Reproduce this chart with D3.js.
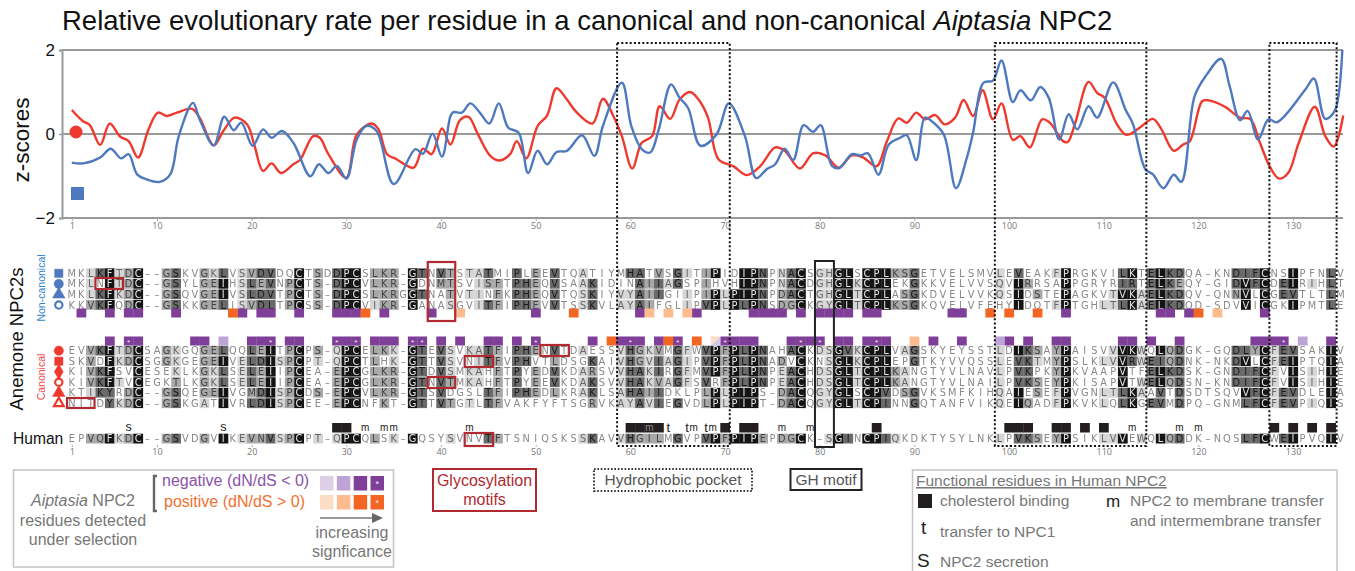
<!DOCTYPE html>
<html>
<head>
<meta charset="utf-8">
<script src="https://cdn.jsdelivr.net/npm/d3@7"></script>
<style>
body { margin: 0; background: #fff; }
svg { display: block; font-family: "Liberation Sans", Arial, sans-serif; }
.seq text, .seq { font-family: "DejaVu Sans", sans-serif; }
.soft { filter: blur(0.45px); }
.softer { filter: blur(0.3px); }
</style>
</head>
<body>
<script>
const redResidue = [1,2.15,2.9,4,5,6.1,7,8,9.1,10.1,11,12.1,13.7,14.5,16,17,18.2,19.5,20.3,21.2,22.1,23.1,24.4,25.1,26.5,27.2,28.1,30,31.1,32.7,33.4,34.3,35.3,37.1,38.1,39,40.1,41,42,42.9,43.9,45.2,46.2,47.3,48,49,50.2,51.2,52.2,53.3,54.3,56,57.1,58.2,59.1,60.2,61.2,62.3,63.1,64.2,65.2,66.3,67.2,68.2,69.3,70.9,72.3,73.7,75.3,76.3,77.9,79.3,80.6,82,83.4,84.6,86,87.1,88.3,89.2,90.2,91.1,92.2,93.2,94.3,95.2,96.2,97.2,98.3,99.2,100.4,101.2,102.2,103.5,104.3,105.7,106.2,107,108.4,109.3,110.1,111.4,112.4,113.8,115.2,116.1,117.4,118.4,119.1,120.4,121.1,122.8,124.4,125.5,126.5,127.6,128.5,129.5,130.6,132.3,133.4,134.3,135.3];
const redZ = [.57,.31,.21,-.26,.25,-.06,-.17,-.56,.11,.51,.43,.51,.6,.39,-.27,.07,.39,.23,-.28,-.88,-.7,-.93,-.72,-.62,-.05,-.09,-.48,-1.04,-.01,.25,.11,-.48,-.6,-.8,-.35,-.48,.13,-.25,.33,.41,-.01,-.52,-.63,-.48,-.17,-.58,.19,.44,1.09,.82,.52,.25,.84,.43,-.05,-.82,-.21,-.05,.66,.36,.82,1,.82,.39,-.6,-.77,-.98,-.77,-.32,-.4,-.82,-.46,-.51,-.8,-.51,-.56,-.77,-.17,.37,.27,.51,.35,.45,.23,.39,.81,.43,1.04,.35,.73,-.14,-.05,-.32,.35,.27,-.17,-.19,.27,1.24,.98,.86,.23,-.02,.15,.36,.11,-.4,-.25,-.17,.78,.8,.65,.39,.35,-.21,-.8,-1.06,-.92,-.21,.65,-.05,-.3,.44];
const blueResidue = [1,2.2,4,5.1,6.2,7,7.9,8.9,10.3,11.4,12.3,13.8,14.5,16,17.1,18.1,18.9,20.1,21.2,22.1,23.2,24.4,26.2,27.1,28.1,29,30,31.1,32.1,33.2,35,37.3,38.1,39.1,40.1,41,41.3,42.2,43.1,44.1,45.1,46.1,47.1,48.2,49.2,50.2,51.2,52.2,53.3,54.9,56.2,57.1,59.1,60.1,61.2,62.1,63,64.3,65.2,66.1,67.4,69.1,70.4,72.1,73.3,74.4,75.3,76.3,77.2,78.3,79.3,80.1,81.3,82.1,83.4,84.3,85.1,86.2,87.3,88.5,89.2,90.2,91.1,91.8,93.1,94.4,95.5,96.2,97.3,98.3,99.2,100.4,101.2,102.3,103.3,104.2,105.3,106.3,107.2,108.4,109.3,111,112.3,113.1,114.4,115.2,116.3,117.4,118.2,119.6,120.9,122.4,123.3,124.4,125.2,126.3,127.4,128.3,131.3,132.2,133.4,134.4,135.2];
const blueZ = [-.68,-.7,-.56,-.35,-.58,-.48,-.96,-1.08,-1.14,-.96,-.05,.74,.35,-.27,.41,.09,.27,-.28,.11,-.09,.07,-.21,-1.01,-.72,-.93,-.76,-1.06,-.13,.19,.07,-1.19,-.36,-.47,.01,-.54,.43,.52,.51,.73,.51,.25,.73,.15,.03,-.93,-.4,-.72,-.43,-.4,-.03,-.52,.19,1.22,.19,-.36,-.44,.11,1.18,.86,.62,-.28,-.01,.73,-.05,-1.05,-.84,-.72,-.35,-.62,.21,.05,.21,-.76,-.81,-.48,-.51,-.46,-.97,-.25,-.09,-.03,-.62,.39,.31,-.01,-1.29,-.6,.03,1.22,1.27,1.75,.76,1.04,.8,1.12,.86,-.13,.47,.11,.66,.39,1.23,.58,.23,-.84,-.96,-1.29,-.97,-1.14,.9,1.42,1.79,1.14,.33,.55,-.13,.35,.28,1.06,1.32,.36,.55,2];

const zTicks = [2, 0, -2];
const residueTicks = [1,10,20,30,40,50,60,70,80,90,100,110,120,130];

// alignment
const nonCanonicalSeqs = [
  "MKLKFTDC--GSKVGKLVSVDVDQCTSDDPCSLKR-GTNVTSTATMIPLEEVTQATIYMHATVSGITIPIDIPNPNACSGHGLSCPLKSGETVELSMVLEVEAKFPRGKVILKTELKDQA-KNDIFCNSIPFNLV",
  "MKLNFTDC--GSYLGEIHSLEVNPCTS-DPCVLKR-GDNMTSVISFTPHEQVSAAKIDINAIIAGSPIHVHIPNPNACDGHGLKCPLEKGKKVELVVSQVIRRSAPPGRYRIRTELKEQY-GIDVFCDEIRIHLT",
  "MKLKFKDC--GSQVGEIVSLDVTPCTS-DPCSLKRGGTNATVTINFKPHEQVTQSKIYVYAIIGIIPIPLPIPNPDACTGHGLTCPLASGKDVELVVKQSIDSTEPAGKVTVKAELKDQV-QNNVLCGEVTLTLM",
  "KKVKFQDC--GSKKGELISVDLTPCSS-DPCVIKR-GANASGVITFIPHEVVTSSKVLAYAIFGLIPVPLPLPNSDGCKGYGLTCPLKSGKQVELVFEHYIDQTFPTGHLTLKAELKDQD-SDVVICGKIPMTLE"
];
const canonicalSeqs = [
  "EVVKFTDCSAGKGQGELQQLEITPCPS-QPCELKK-GTEVSVKATFIPHENVTDAESSVHGKVMGFWVPFPLPNAHACKDSGVKCPLVAGSKYEYSSTLDIKSAYPAISVVVKWQLQDGK-GQDLYCFEVSAKIV",
  "SKVDFKDCSGGKGEGEIVELDISPCPT-QPCTLHK-GTTVSVNITFVPHVTLDSGKAIVHGVIAGIPVPFPLPNADVCKNSGLKCPLEPGTKYVVQSSLEVKTMYPSLKLVVRWEIQDNK-NKDVLCFEIPTQIA",
  "KIVKFSVCESEKLKGKLSELEIIPCEA-EPCGLKR-GTDVSMKAHFTPYEDVKDARSVVHAKIRGFMVPFPLPNPEACHDSGLTCPLKANGTYVLNAVLPVKPKYPKVAAPVTFELKDSK-GNDIFCFVISIHIE",
  "KIVKFTVCEGKTLKGKLSELEIIPCEA-EPCGLKR-GTNVTMKAHFTPYEEVKDAKSVVHAKVAGFSVRFPLPNPEACHDSGLTCPLKANGTYVLNAILPVKSEYPKISAPVTWELQDSN-KNDIFCFVISIHIE",
  "KTIKYRDC--GSQEGEIVGMDISPCDS-EPCVLKR-GTSVDGSLTFIPHEDLKRAKLSAHAIIDKLPLPLPIPS-DACQGYGLSCPVDSGVKSMFKIHQAIESEFPVGNLTLKAAVTDSDTSQVVFCFEVDLEIA",
  "NITDYKDC--GSKGATIVRLDISPCEE-EPCNFKT-GTTVTGTLTFVAKFYFTSGRVKAYAVIEGVDLPLPIPT-DACQGYGLTCPINNGQTANFVIKQEIQADFPKVKLQLKGEVMDPQ-GNMLFCFEVPIQIS"
];
const humanSeq = "EPVQFKDC--GSVDGVIKEVNVSPCPT-QPCQLSK-GQSYSVNVTFTSNIQSKSSKAVVHGILMGVPVPFPIPEPDGCK-SGINCPIQKDKTYSYLNKLPVKSEYPSIKLVVEWQLQDDK-NQSLFCWEIPVQIV";

// darkest shade seen in each alignment column, 0 none .. 4 black
const columnShade = [
  0,0,2,3,4,1,2,4,0,0,
  2,3,0,0,2,2,4,0,1,3,
  3,4,1,2,4,0,2,0,3,4,
  4,0,2,2,2,0,4,3,0,3,
  2,0,1,1,3,2,0,3,3,2,
  0,3,0,0,1,3,0,0,1,3,
  3,2,3,1,3,1,0,3,4,2,
  4,4,4,3,0,2,3,4,0,1,
  1,4,4,1,4,4,4,2,2,3,
  0,0,0,0,0,0,0,0,1,0,
  4,3,2,0,2,4,0,0,0,1,
  1,4,4,1,3,4,3,3,0,0,
  0,0,0,3,4,3,4,1,3,4,
  0,1,0,4,0
];
const similarGroups = ["ILVM","KRQ","DEN","ST","FYW","AG"];

// residues detected under selection
const ncNegative = [2,5,7,8,12,19,21,22,25,29,30,31,34,39,50,61,67,73,74,75,76,78,80,81,82,83,85,86,94,95,106,116,117,119,127];
const ncPositive = [18,32,54,98,100,103,120];
const ncPositiveWeak = [42,62,64,66,122];
const cNegative = [5,7,8,14,15,20,21,22,24,25,29,30,31,33,34,35,37,38,40,42,45,46,48,50,56,59,60,61,63,65,70,71,72,73,77,78,79,80,82,83,85,86,87,92,95,100,102,105,106,112,113,115,118,126,127,128,129,134];
const cNegativeWeak = [17,99,131];
const cPositive = [58,64,67];
const cPositiveWeak = [90];
const cMixed = [69];
const cStars = [7,22,29,31,37,38,50,60,65,70,78,80,86,129];

// functional residues, human
const cholesterol = [29,30,60,61,62,63,70,72,73,86,100,101,102,105,106,108,110,128,130,132,134];
const mResidues = [32,34,35,43,62,66.7,68.7,76,79,113,118,120];
const tResidues = [64,66,68];
const sResidues = [7,17];

// regions, first / last residue of the box
const pockets = [[58.6,70.5],[98.5,114.5],[127.5,134.6]];
const ghMotif = [79.5,81.5];

const width = 1355, height = 571;
const svg = d3.select("body").append("svg").attr("width", width).attr("height", height);

let x = d3.scaleLinear().domain([1,135]).range([71.8,1340.4]);
let y = d3.scaleLinear().domain([-2,2]).range([218,50]);
const step = x(2) - x(1);

// title
let title = svg.append("text").attr("x",62).attr("y",30).attr("font-size",27.5).attr("fill","#111");
title.append("tspan").text("Relative evolutionary rate per residue in a canonical and non-canonical ");
title.append("tspan").attr("font-style","italic").text("Aiptasia");
title.append("tspan").text(" NPC2");

// axes
let yAxis = svg.append("g").attr("transform","translate(62,0)")
  .call(d3.axisLeft(y).tickValues(zTicks).tickSize(3).tickFormat(d3.format("d")));
yAxis.select(".domain").attr("stroke","#999").attr("stroke-width",2);
yAxis.selectAll(".tick line").attr("stroke","#999").attr("stroke-width",1.5);
yAxis.selectAll(".tick text").attr("font-size",17).attr("font-family","Liberation Sans").attr("fill","#111").attr("x",-7);

svg.append("g").attr("class","softer").selectAll("line").data(zTicks).enter().append("line")
  .attr("x1",62).attr("x2",1343)
  .attr("y1",d => y(d)).attr("y2",d => y(d))
  .attr("stroke","#999").attr("stroke-width",2);

function residueAxis(yPos, tickLen) {
  let g = svg.append("g").attr("transform","translate(0," + yPos + ")")
    .call(d3.axisBottom(x).tickValues(residueTicks).tickSize(tickLen).tickPadding(2).tickFormat(d3.format("d")));
  g.select(".domain").remove();
  g.selectAll(".tick line").attr("stroke","#aaa");
  g.selectAll(".tick text").attr("font-size",9).attr("font-family","Open Sans").attr("fill","#777");
}
residueAxis(218, 3);
residueAxis(445, 2);

svg.append("text").attr("transform","translate(29,140) rotate(-90)")
  .attr("text-anchor","middle").attr("font-size",22.5).attr("fill","#111").text("z-scores");

// the two curves
let line = d3.line().x(d => x(d[0])).y(d => y(d[1])).curve(d3.curveCatmullRom.alpha(0.5));
let curves = svg.append("g").attr("class","softer");
curves.append("path").datum(d3.zip(redResidue,redZ)).attr("d",line)
  .attr("fill","none").attr("stroke","#ee3a2e").attr("stroke-width",2.4);
curves.append("path").datum(d3.zip(blueResidue,blueZ)).attr("d",line)
  .attr("fill","none").attr("stroke","#4f79bf").attr("stroke-width",2.4);

svg.append("circle").attr("cx",76).attr("cy",132).attr("r",6.5).attr("fill","#ee3a2e");
svg.append("rect").attr("x",71).attr("y",187).attr("width",13).attr("height",13).attr("fill","#4f79bf");

// alignment rows
const ncRows = d3.scalePoint().domain(d3.range(4)).range([273.3,305]);
const cRows = d3.scalePoint().domain(d3.range(6)).range([350.7,403.3]);
const allSeqs = nonCanonicalSeqs.concat(canonicalSeqs, [humanSeq]);

const shade = d3.scaleOrdinal().domain([0,1,2,3,4]).range(["#fff","#d6d6d6","#a8a8a8","#6a6a6a","#141414"]);
const ink = d3.scaleOrdinal().domain([0,1,2,3,4]).range(["#888","#666","#444","#1a1a1a","#e4e4e4"]);

// most frequent letter of each column
const consensus = d3.range(135).map(col => {
  let counts = d3.rollups(allSeqs, v => v.length, s => s[col]).filter(d => d[0] !== "-");
  return d3.greatest(counts, d => d[1])[0];
});
function cellLevel(col, ch) {
  if (ch === "-") return 0;
  let top = columnShade[col];
  if (ch === consensus[col]) return top;
  let similar = similarGroups.some(g => g.includes(ch) && g.includes(consensus[col]));
  if (similar) return Math.max(top - 1, 0);
  let count = d3.sum(allSeqs, s => s[col] === ch ? 1 : 0);
  return count >= 3 ? Math.min(top, 1) : 0;
}

function drawRow(seq, yPos) {
  let g = svg.append("g").attr("class","seq");
  let cells = Array.from(seq).map((ch,i) => ({ch:ch, res:i+1, lv:cellLevel(i,ch)}));
  g.append("g").attr("class","soft").selectAll("rect").data(cells.filter(d => d.lv > 0)).enter().append("rect")
    .attr("x",d => x(d.res)-step/2).attr("y",yPos-5).attr("width",step+0.3).attr("height",9.8)
    .attr("fill",d => shade(d.lv));
  g.append("g").attr("class","softer").selectAll("text").data(cells).enter().append("text")
    .attr("x",d => x(d.res)).attr("y",yPos+3.6).attr("text-anchor","middle")
    .attr("font-size",9.8).attr("fill",d => ink(d.lv)).text(d => d.ch === "-" ? "–" : d.ch);
}
nonCanonicalSeqs.forEach((s,i) => drawRow(s, ncRows(i)));
canonicalSeqs.forEach((s,i) => drawRow(s, cRows(i)));
drawRow(humanSeq, 438.7);

// row symbols
const blue = "#4f79bf", red = "#ee3a2e";
function rowSymbol(type, yPos, col, open) {
  svg.append("path").attr("transform","translate(58.8," + yPos + ")")
    .attr("d",d3.symbol().type(type).size(open ? 42 : 68)())
    .attr("fill",open ? "#fff" : col).attr("stroke",col).attr("stroke-width",open ? 2.2 : 0.5);
}
[d3.symbolSquare,d3.symbolCircle,d3.symbolTriangle,d3.symbolCircle].forEach((t,i) => rowSymbol(t,ncRows(i),blue,i === 3));
[d3.symbolCircle,d3.symbolSquare,d3.symbolDiamond,d3.symbolCircle,d3.symbolTriangle,d3.symbolTriangle]
  .forEach((t,i) => rowSymbol(t,cRows(i),red,i === 3 || i === 5));

svg.append("text").attr("transform","translate(45,288) rotate(-90)").attr("text-anchor","middle")
  .attr("font-size",10.5).attr("fill","#2f86c8").text("Non-canonical");
svg.append("text").attr("transform","translate(45,377) rotate(-90)").attr("text-anchor","middle")
  .attr("font-size",10.5).attr("fill","#ee4a50").text("Canonical");
svg.append("text").attr("transform","translate(23,339) rotate(-90)").attr("text-anchor","middle")
  .attr("font-size",18.5).attr("fill","#111").text("Anemone NPC2s");
svg.append("text").attr("x",13).attr("y",444).attr("font-size",15.6).attr("fill","#111").text("Human");

// selection strips
function strip(data, yPos, col) {
  svg.append("g").selectAll("rect").data(data).enter().append("rect")
    .attr("x",d => x(d)-step/2).attr("y",yPos).attr("width",step+0.3).attr("height",9)
    .attr("fill",col);
}
const purple = "#7f3f98", orange = "#f26522", lightPurple = "#bda3d6", lightOrange = "#fdbb90";
strip(ncNegative,308.5,purple);
strip(ncPositive,308.5,orange);
strip(ncPositiveWeak,308.5,lightOrange);
strip(cNegative,336.5,purple);
strip(cPositive,336.5,orange);
strip(cNegativeWeak,336.5,lightPurple);
strip(cPositiveWeak,336.5,lightOrange);
svg.append("g").selectAll("path").data(cMixed).enter().append("path")
  .attr("d",d => "M" + (x(d)-step/2) + ",336.5h" + step + "l" + (-step) + ",9z").attr("fill","#fcdcc5");
svg.append("g").selectAll("path").data(cMixed).enter().append("path")
  .attr("d",d => "M" + (x(d)+step/2) + ",336.5v9h" + (-step) + "z").attr("fill","#d6c8e6");
svg.append("g").selectAll("text").data(cStars).enter().append("text")
  .attr("x",d => x(d)).attr("y",344.5).attr("text-anchor","middle").attr("font-size",8).attr("fill","#eee").text("*");

// human functional marks
svg.append("g").selectAll("rect").data(cholesterol).enter().append("rect")
  .attr("x",d => x(d)-step/2).attr("y",423).attr("width",step+0.3).attr("height",9.5).attr("fill","#231f20");
function marks(data, letter, yPos, size) {
  svg.append("g").selectAll("text").data(data).enter().append("text")
    .attr("x",d => x(d)).attr("y",yPos).attr("text-anchor","middle").attr("font-size",size)
    .attr("fill",d => cholesterol.includes(d) ? "#888" : "#222").text(letter);
}
marks(mResidues,"m",431,10);
marks(tResidues,"t",431.5,13);
marks(sResidues,"s",431,12.5);

// dotted boxes and motif boxes
svg.append("g").selectAll("rect").data(pockets).enter().append("rect")
  .attr("x",d => x(d[0])).attr("y",43).attr("width",d => x(d[1])-x(d[0])).attr("height",403)
  .attr("fill","none").attr("stroke","#111").attr("stroke-width",2).attr("stroke-dasharray","2 2.2");
svg.append("rect").attr("x",x(ghMotif[0])).attr("y",261).attr("width",x(ghMotif[1])-x(ghMotif[0])).attr("height",186)
  .attr("fill","none").attr("stroke","#222").attr("stroke-width",2);

const glyco = [[38.6,41.5,262,321],[3.5,6.4,278,289],[0.5,3.4,398,408],[50.5,53.5,345,356],[42.5,45.5,356,367],[38.6,41.5,377,388],[42.5,45.5,433,446]];
svg.append("g").selectAll("rect").data(glyco).enter().append("rect")
  .attr("x",d => x(d[0])).attr("y",d => d[2]).attr("width",d => x(d[1])-x(d[0])).attr("height",d => d[3]-d[2])
  .attr("fill","none").attr("stroke","#b02a30").attr("stroke-width",2.2);

// legend, selection
function label(xp, yp, txt, size, col, anchor) {
  return svg.append("text").attr("x",xp).attr("y",yp).attr("font-size",size).attr("fill",col)
    .attr("text-anchor",anchor || "start").text(txt);
}
svg.append("rect").attr("x",13.5).attr("y",470).attr("width",380).attr("height",97)
  .attr("fill","none").attr("stroke","#c4c4c4").attr("stroke-width",1.5);
let lg = label(83,506,"",16,"#777","middle");
lg.append("tspan").attr("font-style","italic").text("Aiptasia");
lg.append("tspan").text(" NPC2");
label(83,526,"residues detected",16,"#777","middle");
label(83,545,"under selection",16,"#777","middle");
svg.append("path").attr("d","M157,476H154V511H157").attr("fill","none").attr("stroke","#666").attr("stroke-width",2.4);
label(162,486,"negative (dN/dS < 0)",16,"#8a52a8");
label(164,507,"positive (dN/dS > 0)",16,"#f07030");
const purpleScale = ["#dccfe6","#bda3d6",purple,purple], orangeScale = ["#fcdcc5","#fdbb90",orange,orange];
const legendX = d3.scaleBand().domain(d3.range(4)).range([320,384]).paddingInner(0.2);
[[purpleScale,476],[orangeScale,495]].forEach(p => {
  svg.append("g").selectAll("rect").data(p[0]).enter().append("rect")
    .attr("x",(d,i) => legendX(i)).attr("y",p[1]).attr("width",legendX.bandwidth()).attr("height",14.5).attr("fill",d => d);
  label(legendX(3)+legendX.bandwidth()/2,p[1]+11,"*",9,"#eee","middle");
});
svg.append("line").attr("x1",320).attr("x2",374).attr("y1",518).attr("y2",518).attr("stroke","#777").attr("stroke-width",1.5);
svg.append("path").attr("d","M372,513L383,518L372,523z").attr("fill","#666");
label(352,538,"increasing",16,"#777","middle");
label(352,557,"signficance",16,"#777","middle");

// legend, motifs
svg.append("rect").attr("x",433).attr("y",469).attr("width",103).attr("height",42)
  .attr("fill","none").attr("stroke","#b02a30").attr("stroke-width",2);
label(484.5,486,"Glycosylation",16,"#b02a30","middle");
label(484.5,505,"motifs",16,"#b02a30","middle");
svg.append("rect").attr("x",594).attr("y",469).attr("width",158).attr("height",22)
  .attr("fill","none").attr("stroke","#333").attr("stroke-width",2).attr("stroke-dasharray","1.6 1.8");
label(673,485,"Hydrophobic pocket",15.5,"#555","middle");
svg.append("rect").attr("x",790.5).attr("y",469).attr("width",71).attr("height",21)
  .attr("fill","none").attr("stroke","#222").attr("stroke-width",2);
label(826,485,"GH motif",15.5,"#555","middle");

// legend, functional residues
svg.append("path").attr("d","M912.5,571V470H1337V571").attr("fill","none").attr("stroke","#c4c4c4").attr("stroke-width",1.5);
label(916,486,"Functional residues in Human NPC2",15.5,"#777").attr("text-decoration","underline");
svg.append("rect").attr("x",918).attr("y",494).attr("width",14).attr("height",14).attr("fill","#231f20");
label(940,506,"cholesterol binding",15.5,"#777");
label(1106,507,"m",17,"#222");
label(1130,506,"NPC2 to membrane transfer",15.5,"#777");
label(1130,526,"and intermembrane transfer",15.5,"#777");
label(921,534,"t",19,"#222");
label(940,537,"transfer to NPC1",15.5,"#777");
label(917,567,"S",19,"#222");
label(940,567,"NPC2 secretion",15.5,"#777");
</script>
</body>
</html>
